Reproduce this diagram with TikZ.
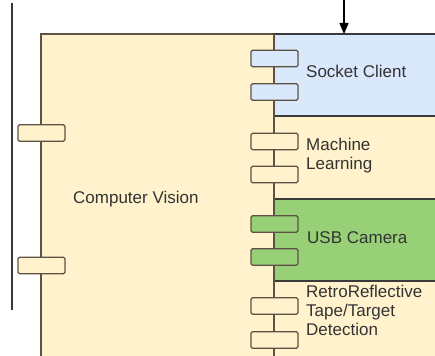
\documentclass[tikz,border=0pt]{standalone}
\usepackage{fontspec}
\setmainfont{Liberation Sans}
\usetikzlibrary{arrows.meta}
\definecolor{yel}{HTML}{FFF2CC}
\definecolor{yelline}{HTML}{5C5344}
\definecolor{blu}{HTML}{DAE8FC}
\definecolor{grn}{HTML}{97D077}
\definecolor{txt}{HTML}{333333}
\definecolor{edge}{HTML}{3A3A3A}
\tikzset{
  comp/.style={draw=edge, line width=1.3pt},
  port/.style={draw=yelline, line width=1.3pt, rounded corners=1.5pt, minimum width=47pt, minimum height=16.5pt, inner sep=0pt},
  lbl/.style={text=txt, font=\fontsize{17}{18.8}\selectfont, anchor=base west, inner sep=0pt, align=left},
}
\begin{document}
\begin{tikzpicture}[x=1pt,y=-1pt]
\useasboundingbox (0,0) rectangle (435,355);
\clip (0,0) rectangle (435,355);
% outer component
\draw[comp, draw=yelline, fill=yel] (41,34) rectangle (450,370);
% left boundary line
\draw[draw=edge, line width=1.5pt] (12,3) -- (12,310);
% outer ports
\node[port, fill=yel] (op1) at (41.5,133) {};
\node[port, fill=yel] (op2) at (41.5,265.5) {};
% socket client
\draw[comp, fill=blu] (274,34) rectangle (450,116);
% usb camera
\draw[comp, fill=grn] (274,199) rectangle (450,281);
% inner left line
\draw[draw=yelline, line width=1.3pt] (274,34) -- (274,370);
% ports
\node[port, fill=blu] (sp1) at (274.5,58.5) {};
\node[port, fill=blu] (sp2) at (274.5,92) {};
\node[port, fill=yel] (mp1) at (274.5,141.5) {};
\node[port, fill=yel] (mp2) at (274.5,174.5) {};
\node[port, fill=grn] (up1) at (274.5,224) {};
\node[port, fill=grn] (up2) at (274.5,257) {};
\node[port, fill=yel] (rp1) at (274.5,306) {};
\node[port, fill=yel] (rp2) at (274.5,340) {};
% labels (base = last line baseline)
\node[lbl] (cv) at (73,203) {Computer Vision};
\node[lbl] (sc) at (306,78) {Socket Client};
\node[lbl] (ml) at (306,169.5) {Machine\\Learning};
\node[lbl] (uc) at (307,243) {USB Camera};
\node[lbl] (rr) at (306,335) {RetroReflective\\Tape/Target\\Detection};
% arrow
\coordinate (src) at (344,-2);
\coordinate (dst) at (344,34);
\draw[draw=black, line width=1.3pt, -{Triangle[length=11pt,width=9pt]}] (src) -- (dst);
\end{tikzpicture}
\end{document}
